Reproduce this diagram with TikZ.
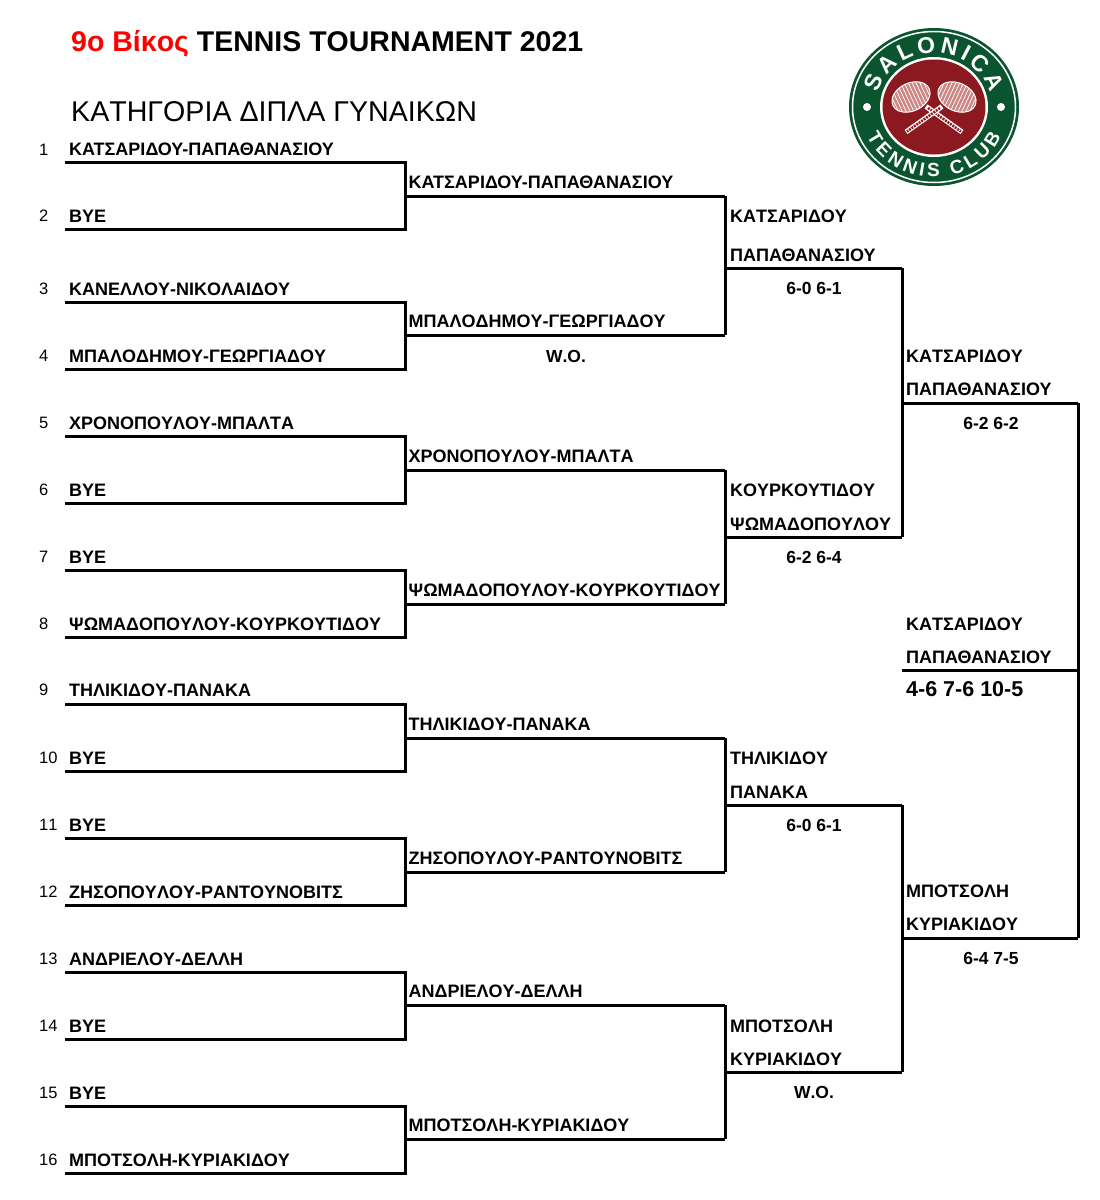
\documentclass[tikz,border=0pt]{standalone}
\usepackage{fontspec}
\setmainfont[RawFeature=-kern]{Liberation Sans}
\usetikzlibrary{decorations.text}
\definecolor{myred}{RGB}{255,0,0}
\definecolor{clubgreen}{RGB}{10,84,48}
\definecolor{clubred}{RGB}{140,24,32}
\definecolor{clubpink}{RGB}{205,135,135}
\newcommand{\logotop}{\fontsize{23}{24}\bfseries\color{white}}
\newcommand{\logobot}{\fontsize{19}{20}\bfseries\color{white}}
\newcommand{\kerned}{\addfontfeature{RawFeature=+kern}}

\begin{document}
\begin{tikzpicture}[x=1pt, y=-1pt, line join=miter,
		tree/.style={line width=3pt, line cap=butt},
		player/.style={anchor=base west, inner sep=0pt, font=\fontsize{18}{18}\bfseries\selectfont},
		seed/.style={anchor=base west, inner sep=0pt, font=\fontsize{16.5}{18}\selectfont},
		score/.style={anchor=base, inner sep=0pt, font=\fontsize{17.5}{18}\bfseries\selectfont}]
				\useasboundingbox (0,0) rectangle (1100,1200);
				% Titles
				\node[anchor=base west, inner sep=0pt, font=\fontsize{28.5}{30}\bfseries\selectfont] (title) at (71,51) {\textcolor{myred}{9ο Βίκος} TENNIS TOURNAMENT 2021};
				\node[anchor=base west, inner sep=0pt, font=\fontsize{28.6}{30}\selectfont] (category) at (71,121) {ΚΑΤΗΓΟΡΙΑ ΔΙΠΛΑ ΓΥΝΑΙΚΩΝ};
				% First round
				\foreach \n/\y/\z/\name in {1/162/155.5/{\kerned ΚΑΤΣΑΡΙΔΟΥ-ΠΑΠΑΘΑΝΑΣΙΟΥ}, 2/229/222/BYE, 3/302/295/ΚΑΝΕΛΛΟΥ-ΝΙΚΟΛΑΙΔΟΥ, 4/369/362/ΜΠΑΛΟΔΗΜΟΥ-ΓΕΩΡΓΙΑΔΟΥ, 5/436/429/ΧΡΟΝΟΠΟΥΛΟΥ-ΜΠΑΛΤΑ, 6/503/496/BYE, 7/570/563/BYE, 8/637/630/ΨΩΜΑΔΟΠΟΥΛΟΥ-ΚΟΥΡΚΟΥΤΙΔΟΥ, 9/704/696/ΤΗΛΙΚΙΔΟΥ-ΠΑΝΑΚΑ, 10/771/764/BYE, 11/838/831/BYE, 12/905/898/ΖΗΣΟΠΟΥΛΟΥ-ΡΑΝΤΟΥΝΟΒΙΤΣ, 13/972/965/ΑΝΔΡΙΕΛΟΥ-ΔΕΛΛΗ, 14/1039/1032/BYE, 15/1106/1099/BYE, 16/1173/1166/ΜΠΟΤΣΟΛΗ-ΚΥΡΙΑΚΙΔΟΥ} {
					\coordinate (a\n) at (65,\y);
					\node[seed] (seed\n) at (39,\z-.5) {\n};
					\node[player] (player\n) at (69,\z) {\name};
				}
				% Second round
				\foreach \n/\y/\name in {1/196/{\kerned ΚΑΤΣΑΡΙΔΟΥ-ΠΑΠΑΘΑΝΑΣΙΟΥ}, 2/335/ΜΠΑΛΟΔΗΜΟΥ-ΓΕΩΡΓΙΑΔΟΥ, 3/470/ΧΡΟΝΟΠΟΥΛΟΥ-ΜΠΑΛΤΑ, 4/604/ΨΩΜΑΔΟΠΟΥΛΟΥ-ΚΟΥΡΚΟΥΤΙΔΟΥ, 5/738/ΤΗΛΙΚΙΔΟΥ-ΠΑΝΑΚΑ, 6/872/ΖΗΣΟΠΟΥΛΟΥ-ΡΑΝΤΟΥΝΟΒΙΤΣ, 7/1005/ΑΝΔΡΙΕΛΟΥ-ΔΕΛΛΗ, 8/1139/ΜΠΟΤΣΟΛΗ-ΚΥΡΙΑΚΙΔΟΥ} {
					\coordinate (b\n) at (405,\y);
					\coordinate (bend\n) at (725,\y);
					\node[player] (second\n) at (408.5,\y-7.2) {\name};
				}
				\node[score] (wo) at (566,362) {W.O.};
				% Quarter finals
				\foreach \n/\y/\bot/\res in {1/268/{\kerned ΠΑΠΑΘΑΝΑΣΙΟΥ}/6-0 6-1, 2/537/ΨΩΜΑΔΟΠΟΥΛΟΥ/6-2 6-4, 3/805/ΠΑΝΑΚΑ/6-0 6-1, 4/1072/ΚΥΡΙΑΚΙΔΟΥ/W.O.} {
					\coordinate (c\n) at (725,\y);
					\coordinate (cend\n) at (902,\y);
					\node[player] (thirdb\n) at (730,\y-7) {\bot};
					\node[score] (thirds\n) at (814,\y+26.6) {\res};
				}
				\node[player] (thirda1) at (730,222) {ΚΑΤΣΑΡΙΔΟΥ};
				\node[player] (thirda2) at (730,496) {ΚΟΥΡΚΟΥΤΙΔΟΥ};
				\node[player] (thirda3) at (730,764) {ΤΗΛΙΚΙΔΟΥ};
				\node[player] (thirda4) at (730,1032) {ΜΠΟΤΣΟΛΗ};
				% Semi finals
				\foreach \n/\y/\top/\bot/\res in {1/403/ΚΑΤΣΑΡΙΔΟΥ/{\kerned ΠΑΠΑΘΑΝΑΣΙΟΥ}/6-2 6-2, 2/938/ΜΠΟΤΣΟΛΗ/ΚΥΡΙΑΚΙΔΟΥ/6-4 7-5} {
					\coordinate (d\n) at (902,\y);
					\coordinate (dend\n) at (1078,\y);
					\node[player] (fourtha\n) at (906,\y-41) {\top};
					\node[player] (fourthb\n) at (906,\y-7.2) {\bot};
					\node[score] (fourths\n) at (991,\y+26.3) {\res};
				}
				% Final
				\coordinate (e) at (902,670);
				\coordinate (eend) at (1078,670);
				\node[player] (finala) at (906,630) {ΚΑΤΣΑΡΙΔΟΥ};
				\node[player] (finalb) at (906,663) {\kerned ΠΑΠΑΘΑΝΑΣΙΟΥ};
				\node[anchor=base west, inner sep=0pt, font=\fontsize{21.5}{24}\bfseries\selectfont] (finals) at (906,696) {4-6 7-6 10-5};
				% Lines
				\foreach \i/\j/\k in {1/2/1, 3/4/2, 5/6/3, 7/8/4, 9/10/5, 11/12/6, 13/14/7, 15/16/8} {
					\draw[tree] (a\i) -| (b\k) |- (a\j);
					\draw[tree] (b\k) -- (bend\k);
				}
				\foreach \i/\j/\k in {1/2/1, 3/4/2, 5/6/3, 7/8/4} {
					\draw[tree] (bend\i) -| (c\k) |- (bend\j);
					\draw[tree] (c\k) -- (cend\k);
				}
				\foreach \i/\j/\k in {1/2/1, 3/4/2} {
					\draw[tree] (cend\i) -| (d\k) |- (cend\j);
					\draw[tree] (d\k) -- (dend\k);
				}
				\draw[tree] (dend1) -- (dend2);
				\draw[tree] (e) -- (eend);
				% Logo
				\begin{scope}[shift={(934,107)}, yscale=-1]
					\fill[clubgreen] (0,0) ellipse [x radius=85, y radius=79];
					\draw[white, line width=1.5pt] (0,0) ellipse [x radius=81.5, y radius=75.5];
					\fill[white] (0,0) ellipse [x radius=54, y radius=50];
					\fill[clubred] (0,0) ellipse [x radius=51.5, y radius=47.5];
					\fill[white] (-67,0) circle (4);
					\fill[white] (67,0) circle (4);
					\path[decorate, decoration={text along path, text align={fit to path}, text={|\logotop|SALONICA}}] (165:58 and 54) arc [start angle=165, end angle=15, x radius=58, y radius=54];
					\path[decorate, decoration={text along path, text align={fit to path}, text={|\logobot|TENNIS CLUB}}] (205:74 and 70) arc [start angle=205, end angle=335, x radius=74, y radius=70];
					% Rackets
					\foreach \s in {1,-1} {
						\begin{scope}[xscale=\s]
							\draw[white, line width=5pt] (-8,.5) -- (28,-25);
							\draw[clubred, line width=2.5pt, dash pattern=on 2pt off 1pt] (-6,-1) -- (27,-24.5);
							\begin{scope}[shift={(-23,10)}, rotate=-25]
								\fill[clubpink] (0,0) ellipse [x radius=20, y radius=14];
								\clip (0,0) ellipse [x radius=20, y radius=14];
								\draw[white, line width=.7pt, step=3.5] (-24,-17.5) grid (24,17.5);
							\end{scope}
							\draw[white, line width=1pt, rotate around={-25:(-23,10)}] (-23,10) ellipse [x radius=20, y radius=14];
						\end{scope}
					}
				\end{scope}
\end{tikzpicture}
\end{document}
